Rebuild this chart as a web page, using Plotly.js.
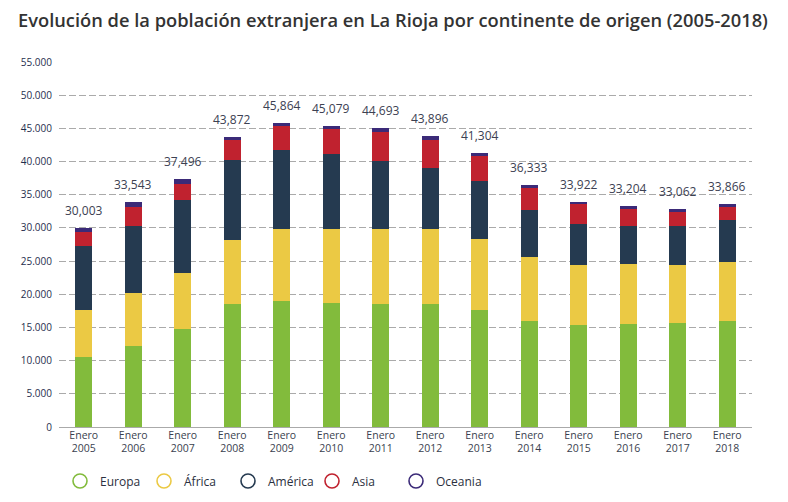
<!DOCTYPE html>
<html>
<head>
<meta charset="utf-8">
<script src="https://cdn.plot.ly/plotly-3.0.1.min.js"></script>
<style>html,body{margin:0;padding:0;background:#fff;}#chart{width:788px;height:502px;}</style>
</head>
<body>
<div id="chart"></div>
<script>
const categories = ["Enero<br>2005","Enero<br>2006","Enero<br>2007","Enero<br>2008","Enero<br>2009","Enero<br>2010","Enero<br>2011","Enero<br>2012","Enero<br>2013","Enero<br>2014","Enero<br>2015","Enero<br>2016","Enero<br>2017","Enero<br>2018"];
const europa   = [10590,12250,14810,18580,19030,18730,18580,18580,17680,16030,15420,15570,15720,16030];
const africa   = [7090,7990,8440,9640,10850,11150,11300,11300,10690,9630,9040,9040,8740,8880];
const america  = [9640,10090,11000,12010,11910,11300,10250,9190,8750,7090,6180,5720,5870,6330];
const asia     = [2060,2870,2410,3070,3610,3720,4370,4230,3760,3310,3010,2570,2120,1960];
const oceania  = [620,750,700,450,460,500,600,600,460,450,300,450,450,450];
const totalLabels = ["30,003","33,543","37,496","43,872","45,864","45,079","44,693","43,896","41,304","36,333","33,922","33,204","33,062","33,866"];
const yTickVals = [0,5000,10000,15000,20000,25000,30000,35000,40000,45000,50000,55000];
const yTickText = ["0","5.000","10.000","15.000","20.000","25.000","30.000","35.000","40.000","45.000","50.000","55.000"];

const series = [
  {name:"Europa", v:europa, c:"#82bb3c"},
  {name:"África", v:africa, c:"#ebc944"},
  {name:"América", v:america, c:"#253a50"},
  {name:"Asia", v:asia, c:"#c0222f"},
  {name:"Oceania", v:oceania, c:"#3b2a78"}
];
const traces = [];
series.forEach(s => {
  traces.push({type:"bar", x:categories, y:s.v, name:s.name, marker:{color:s.c}, width:0.34, showlegend:false, hoverinfo:"skip"});
});
series.forEach(s => {
  traces.push({type:"scatter", mode:"markers", x:[categories[0]], y:[null], name:s.name,
    marker:{symbol:"circle-open", size:14, color:s.c, line:{width:1.6, color:s.c}}, showlegend:true});
});
// invisible spacer entry so the last legend label is not clipped
traces.push({type:"scatter", mode:"markers", x:[categories[0]], y:[null], name:" ",
  marker:{size:1, color:"rgba(0,0,0,0)", line:{width:0, color:"rgba(0,0,0,0)"}}, showlegend:true});
const totals = categories.map((c,i)=>series.reduce((a,s)=>a+s.v[i],0));
const annotations = categories.map((c,i)=>({x:c, y:totals[i], text:totalLabels[i], showarrow:false,
  yanchor:"bottom", yshift:7, font:{family:"Open Sans, sans-serif", size:12, color:"#3c4152"}}));

const layout = {
  width:788, height:502,
  margin:{l:59, r:36, t:62, b:75},
  paper_bgcolor:"#fff", plot_bgcolor:"#fff",
  barmode:"stack",
  title:{text:"Evolución de la población extranjera en La Rioja por continente de origen (2005-2018)",
    x:18/788, xref:"container", xanchor:"left", y:1-21/502, yref:"container", yanchor:"middle",
    font:{family:"Open Sans, sans-serif", size:18.3, color:"#333", weight:600}},
  xaxis:{type:"category", range:[-0.5,13.5], showgrid:false, showline:false, ticks:"", zeroline:false,
    tickfont:{family:"Open Sans, sans-serif", size:10.5, color:"#3a3f4f"}},
  yaxis:{range:[0,55000], tickvals:yTickVals, ticktext:yTickText, showgrid:true, gridcolor:"#aaaaaa", gridwidth:1,
    griddash:"7px,3px", zeroline:true, zerolinecolor:"#aaaaaa", zerolinewidth:1, showline:false, ticks:"",
    ticklabelstandoff:6, tickfont:{family:"Open Sans, sans-serif", size:10, color:"#1f2e4e"}},
  showlegend:true,
  legend:{orientation:"h", xref:"container", yref:"container", x:60/788, xanchor:"left", y:1-481/502, yanchor:"middle",
    entrywidth:39, entrywidthmode:"pixels", traceorder:"normal",
    font:{family:"Open Sans, sans-serif", size:12, color:"#2b3040"}},
  annotations:annotations
};
Plotly.newPlot("chart", traces, layout, {displayModeBar:false, staticPlot:true});
</script>
</body>
</html>
